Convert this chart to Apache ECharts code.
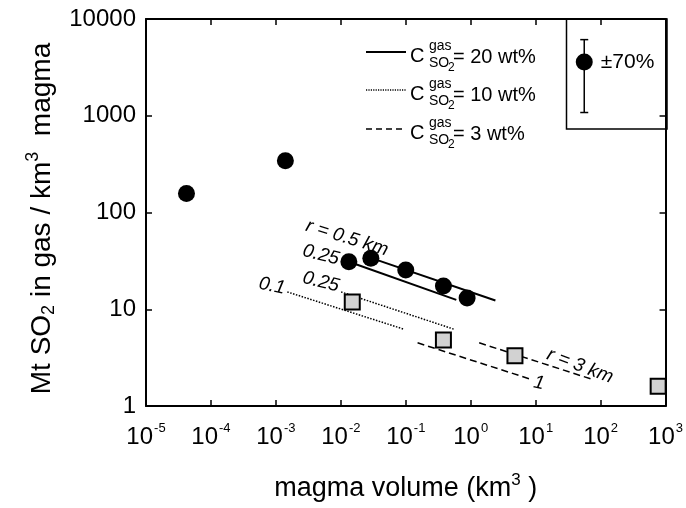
<!DOCTYPE html>
<html>
<head>
<meta charset="utf-8">
<script src="https://cdn.jsdelivr.net/npm/echarts@6/dist/echarts.min.js"></script>
<style>
  html, body { margin: 0; background: #fff; }
  #main { width: 686px; height: 508px; }
</style>
</head>
<body>
<div id="main"></div>
<script>
// eruptions, black circles: magma volume (km3) / Mt SO2 per km3 magma
const circleVol = [4.2e-5, 1.4e-3, 0.0133, 0.029, 0.1, 0.38, 0.88];
const circleSO2 = [157, 342, 31, 33.6, 25.4, 17.4, 13.1];
// grey squares
const squareVol = [0.015, 0.38, 4.8, 770];
const squareSO2 = [11.9, 4.8, 3.3, 1.6];

// model lines [volume, SO2] start/end
const line20r05 = [[0.029, 34], [2.4, 12.3]];
const line20r025 = [[0.0133, 31], [0.6, 12.5]];
const line10r025 = [[0.0101, 15.1], [0.56, 6.2]];
const line10r01 = [[0.0015, 15.1], [0.095, 6.2]];
const line3r1 = [[0.152, 4.5], [8.4, 1.89]];
const line3r3 = [[1.35, 4.5], [79, 1.86]];

// error bar key (+-70 %)
const keyPoint = [56, 3600];
const keyErr = 0.7;

const xMin = 1e-5, xMax = 1e3;
const yMin = 1, yMax = 1e4;

const FONT = 'Liberation Sans, Arial, Helvetica, sans-serif';
const chart = echarts.init(document.getElementById('main'));

function zip(a, b) {
  return a.map((v, i) => [v, b[i]]);
}

const lineBase = { type: 'line', symbol: 'none', silent: true, z: 2 };

const expLabel = v => '{b|10}{s|' + Math.round(Math.log10(v)) + '}';

const axisCommon = {
  type: 'log',
  logBase: 10,
  interval: 1,
  splitLine: { show: false },
  axisLine: { lineStyle: { color: '#000', width: 2 } },
  axisTick: { inside: true, length: 6, lineStyle: { color: '#000', width: 1.5 } }
};

// legend text rows
function legendRow(y, label, dash) {
  return [
    { type: 'line', shape: { x1: 366, y1: y, x2: 406, y2: y },
      style: { stroke: '#000', lineWidth: dash === 'solid' ? 2 : 1.5, lineDash: dash === 'solid' ? null : dash } },
    { type: 'text', x: 410, y: y + 4, style: { text: 'C', font: '20px ' + FONT, fill: '#000', verticalAlign: 'middle' } },
    { type: 'text', x: 429, y: y - 6, style: { text: 'gas', font: '14px ' + FONT, fill: '#000', verticalAlign: 'middle' } },
    { type: 'text', x: 429, y: y + 11, style: { text: 'SO', font: '14px ' + FONT, fill: '#000', verticalAlign: 'middle' } },
    { type: 'text', x: 448, y: y + 16, style: { text: '2', font: '12px ' + FONT, fill: '#000', verticalAlign: 'middle' } },
    { type: 'text', x: 453, y: y + 5, style: { text: '= ' + label, font: '20px ' + FONT, fill: '#000', verticalAlign: 'middle' } }
  ];
}

function note(text, x, y, rot) {
  return { type: 'text', x: x, y: y, rotation: rot,
    style: { text: text, font: 'italic 19px ' + FONT, fill: '#000', align: 'center', verticalAlign: 'middle' } };
}

const option = {
  animation: false,
  backgroundColor: '#fff',
  grid: { left: 146, right: 19, top: 19, bottom: 102 },
  xAxis: [
    Object.assign({}, axisCommon, {
      min: xMin, max: xMax,
      name: 'magma volume (km{sup|3} )',
      nameLocation: 'middle',
      nameGap: 66,
      nameTextStyle: {
        fontFamily: FONT, fontSize: 27, color: '#000',
        rich: { sup: { fontFamily: FONT, fontSize: 17, padding: [0, 0, 16, 0], color: '#000' } }
      },
      axisLabel: {
        margin: 16,
        formatter: expLabel,
        rich: {
          b: { fontFamily: FONT, fontSize: 24, color: '#000' },
          s: { fontFamily: FONT, fontSize: 13, color: '#000', padding: [0, 0, 18, 1] }
        }
      }
    }),
    Object.assign({}, axisCommon, {
      min: xMin, max: xMax, position: 'top',
      axisLabel: { show: false }
    })
  ],
  yAxis: [
    Object.assign({}, axisCommon, {
      min: yMin, max: yMax,
      name: 'Mt SO{sub|2} in gas / km{sup|3}  magma',
      nameLocation: 'middle',
      nameRotate: 90,
      nameGap: 85,
      nameTextStyle: {
        fontFamily: FONT, fontSize: 28, color: '#000',
        padding: [0, 12, 0, 0],
        rich: {
          sub: { fontFamily: FONT, fontSize: 18, padding: [14, 0, 0, 0], color: '#000' },
          sup: { fontFamily: FONT, fontSize: 18, padding: [0, 0, 18, 0], color: '#000' }
        }
      },
      axisLabel: {
        margin: 10, fontFamily: FONT, fontSize: 24, color: '#000',
        formatter: v => String(Math.round(v))
      }
    }),
    Object.assign({}, axisCommon, {
      min: yMin, max: yMax, position: 'right',
      axisLabel: { show: false }
    })
  ],
  graphic: [
    { type: 'rect', shape: { x: 566.5, y: 19, width: 100.5, height: 110 },
      style: { fill: 'none', stroke: '#000', lineWidth: 1.5 }, z: 10 },
    ...legendRow(52, '20 wt%', 'solid'),
    ...legendRow(90, '10 wt%', [1.2, 1.2]),
    ...legendRow(129, '3 wt%', [6, 4]),
    note('r = 0.5 km', 347, 238, -0.3),
    note('0.25', 321, 255, -0.25),
    note('0.25', 321, 282, -0.25),
    note('0.1', 272, 286, -0.2),
    note('r = 3 km', 580, 366, -0.36),
    note('1', 539, 383, -0.2)
  ],
  series: [
    Object.assign({}, lineBase, { data: line20r05, lineStyle: { color: '#000', width: 2 } }),
    Object.assign({}, lineBase, { data: line20r025, lineStyle: { color: '#000', width: 2 } }),
    Object.assign({}, lineBase, { data: line10r025, lineStyle: { color: '#000', width: 1.5, type: [1.5, 1.5] } }),
    Object.assign({}, lineBase, { data: line10r01, lineStyle: { color: '#000', width: 1.5, type: [1.5, 1.5] } }),
    Object.assign({}, lineBase, { data: line3r1, lineStyle: { color: '#000', width: 1.5, type: [7, 4] } }),
    Object.assign({}, lineBase, { data: line3r3, lineStyle: { color: '#000', width: 1.5, type: [7, 4] } }),
    {
      type: 'scatter', symbol: 'circle', symbolSize: 17, z: 4,
      itemStyle: { color: '#000', opacity: 1 },
      data: zip(circleVol, circleSO2)
    },
    {
      type: 'scatter', symbol: 'rect', symbolSize: 15, z: 4,
      itemStyle: { color: '#d2d2d2', borderColor: '#000', borderWidth: 2, opacity: 1 },
      data: zip(squareVol, squareSO2)
    },
    {
      type: 'custom', z: 4, silent: true,
      renderItem: function (params, api) {
        const x = api.value(0), y = api.value(1);
        const t = api.coord([x, y * (1 + keyErr)]);
        const b = api.coord([x, y * (1 - keyErr)]);
        const st = { stroke: '#000', lineWidth: 1.5 };
        return {
          type: 'group',
          children: [
            { type: 'line', shape: { x1: t[0], y1: t[1], x2: b[0], y2: b[1] }, style: st },
            { type: 'line', shape: { x1: t[0] - 4, y1: t[1], x2: t[0] + 4, y2: t[1] }, style: st },
            { type: 'line', shape: { x1: b[0] - 4, y1: b[1], x2: b[0] + 4, y2: b[1] }, style: st }
          ]
        };
      },
      data: [keyPoint]
    },
    {
      type: 'scatter', symbol: 'circle', symbolSize: 17, z: 5,
      itemStyle: { color: '#000', opacity: 1 },
      label: {
        show: true, position: 'right', distance: 8,
        formatter: '±70%', fontFamily: FONT, fontSize: 21, color: '#000'
      },
      data: [keyPoint]
    }
  ]
};

chart.setOption(option);
</script>
</body>
</html>
